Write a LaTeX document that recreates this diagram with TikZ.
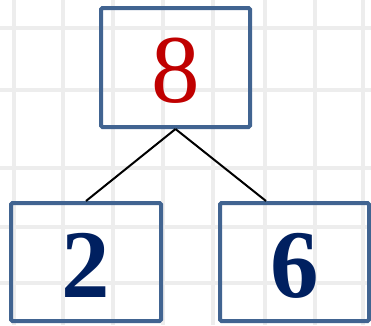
\documentclass[tikz,border=0pt]{standalone}
\usepackage{fontspec}
\setmainfont{Liberation Serif}
\newfontfamily\digitfont{Liberation Serif}
\definecolor{boxblue}{RGB}{65,100,145}
\definecolor{rootred}{RGB}{192,0,0}
\definecolor{leafblue}{RGB}{0,32,96}

\begin{document}
\begin{tikzpicture}[x=1pt,y=-1pt,
  numbox/.style={draw=boxblue,line width=4pt,rounded corners=1.5pt,inner sep=0pt,
    minimum width=149pt,minimum height=118pt,text height=71pt,
    font=\digitfont\fontsize{97}{97}\selectfont},
  gridline/.style={black!7,line width=3.5pt}]
\useasboundingbox (0,0) rectangle (371,325);
\fill[white] (0,0) rectangle (371,325);
\foreach \gx in {14,63,113,163,213,265,315,363}
  \draw[gridline] (\gx,0) -- (\gx,325);
\foreach \gy in {28,90,168,227,283}
  \draw[gridline] (0,\gy) -- (371,\gy);
\node[numbox,text=rootred,minimum height=119pt] (eight) at (175.5,67.5) {8};
\node[numbox,text=leafblue,minimum width=150pt] (two) at (86,262) {\bfseries 2};
\node[numbox,text=leafblue] (six) at (294.5,262) {\bfseries 6};
\draw[line width=2pt] (eight.south) -- (two.north);
\draw[line width=2pt] (eight.south) -- ([xshift=-28.5pt]six.north);
\end{tikzpicture}
\end{document}
